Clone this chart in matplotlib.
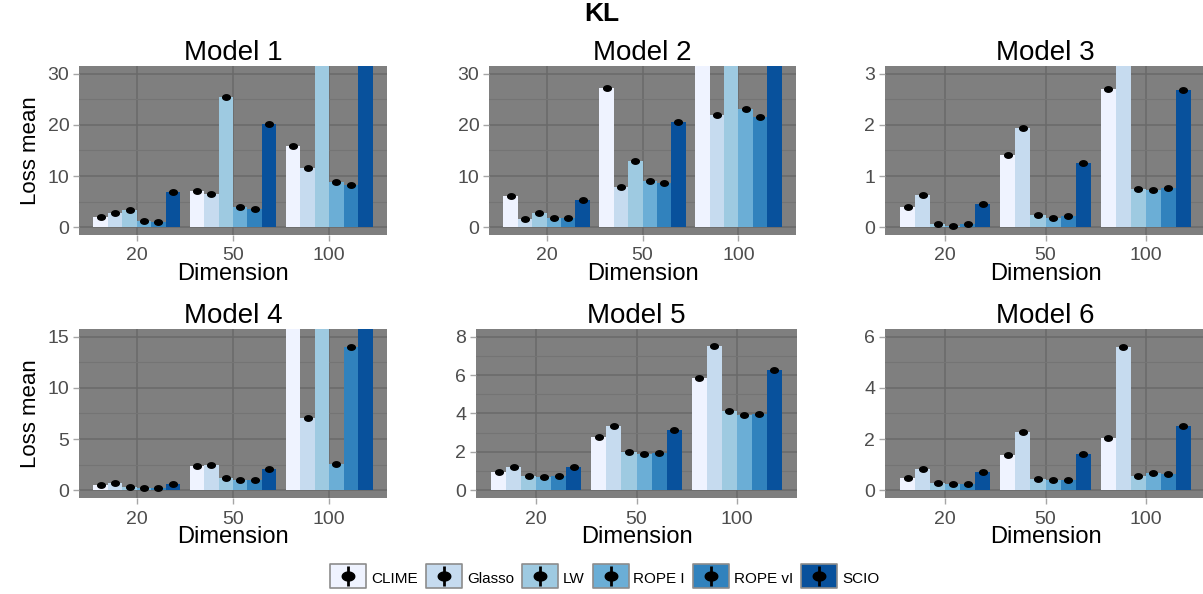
import numpy as np
import matplotlib
matplotlib.use('Agg')
import matplotlib.pyplot as plt
from matplotlib.lines import Line2D
from matplotlib.path import Path
from matplotlib.ticker import MultipleLocator

plt.rcParams['font.family'] = ['Liberation Sans', 'DejaVu Sans']

# ── Data: KL loss mean per method, dimension and model ─────────────
methods = ['CLIME', 'Glasso', 'LW', 'ROPE I', 'ROPE vI', 'SCIO']
dims = ['20', '50', '100']
colors = ['#EFF3FF', '#C6DBEF', '#9ECAE1', '#6BAED6', '#3182BD', '#08519C']

# rows = methods, columns = dimension 20 / 50 / 100
model1 = [[2.0, 7.0, 15.8], [2.7, 6.5, 11.6], [3.4, 25.5, 48.0],
          [1.2, 3.9, 8.9], [1.1, 3.6, 8.3], [6.9, 20.1, 42.0]]
model2 = [[6.1, 27.2, 40.0], [1.7, 7.9, 22.0], [2.7, 12.9, 52.0],
          [1.9, 9.0, 23.1], [1.9, 8.7, 21.5], [5.4, 20.5, 45.0]]
model3 = [[0.39, 1.42, 2.70], [0.63, 1.93, 4.6], [0.07, 0.25, 0.74],
          [0.03, 0.19, 0.72], [0.06, 0.22, 0.76], [0.45, 1.25, 2.68]]
model4 = [[0.55, 2.35, 26.0], [0.75, 2.50, 7.1], [0.30, 1.20, 31.0],
          [0.24, 1.05, 2.6], [0.27, 1.05, 14.0], [0.65, 2.12, 21.0]]
model5 = [[0.96, 2.80, 5.84], [1.20, 3.34, 7.49], [0.73, 1.97, 4.11],
          [0.70, 1.89, 3.93], [0.72, 1.92, 3.96], [1.23, 3.13, 6.27]]
model6 = [[0.49, 1.37, 2.05], [0.83, 2.26, 5.58], [0.29, 0.43, 0.57],
          [0.26, 0.42, 0.67], [0.25, 0.39, 0.63], [0.70, 1.43, 2.50]]

models = [model1, model2, model3, model4, model5, model6]
titles = ['Model 1', 'Model 2', 'Model 3', 'Model 4', 'Model 5', 'Model 6']
ymax = [30, 30, 3, 15, 8, 6]
ystep = [10, 10, 1, 5, 2, 2]

# ── Figure layout (pixel boxes: left, right, top, bottom) ──────────
W, H = 1203, 594
boxes = [(79, 387, 66, 235), (489, 796, 66, 235), (885, 1206, 66, 235),
         (79, 387, 329, 498), (476, 797, 329, 498), (885, 1206, 329, 498)]

fig = plt.figure(figsize=(W / 100, H / 100), dpi=100)

# slightly flattened dot, as drawn by the point layer
t = np.linspace(0, 2 * np.pi, 60)
ellipse = Path(np.column_stack([1.4 * np.cos(t), np.sin(t)]), closed=True)
# legend key box (wider than tall)
keybox = Path([(-1.45, -1), (1.45, -1), (1.45, 1), (-1.45, 1), (-1.45, -1)],
              closed=True)

PANEL_BG = '#7F7F7F'
GRID_MAJ = '#6A6A6A'
GRID_MIN = '#747474'
TICK_COL = '#A6A6A6'
LABEL_COL = '#4D4D4D'

n = len(methods)
width = 0.9 / n
x = np.arange(len(dims))

for i, (data, title) in enumerate(zip(models, titles)):
    l, r, tp, bt = boxes[i]
    ax = fig.add_axes([l / W, 1 - bt / H, (r - l) / W, (bt - tp) / H])
    ax.set_facecolor(PANEL_BG)
    for s in ax.spines.values():
        s.set_visible(False)

    for j, (vals, c) in enumerate(zip(data, colors)):
        xpos = x - 0.45 + width * (j + 0.5)
        ax.bar(xpos, vals, width=width, color=c, linewidth=0, zorder=2)
        ax.plot(xpos, vals, linestyle='none', marker=ellipse, markersize=5.5,
                color='black', zorder=3)

    pad = ymax[i] * 0.05
    ax.set_ylim(-pad, ymax[i] + pad)
    ax.set_xlim(-0.6, len(dims) - 0.4)
    ax.set_xticks(x)
    ax.set_xticklabels(dims)
    ax.yaxis.set_major_locator(MultipleLocator(ystep[i]))
    ax.yaxis.set_minor_locator(MultipleLocator(ystep[i] / 2))
    ax.grid(True, which='major', color=GRID_MAJ, linewidth=1.1, zorder=0)
    ax.grid(True, which='minor', axis='y', color=GRID_MIN, linewidth=0.8, zorder=0)
    ax.set_axisbelow(True)
    ax.tick_params(which='major', length=4, color=TICK_COL, width=1,
                   labelsize=14, labelcolor=LABEL_COL, pad=3)
    ax.tick_params(axis='x', which='major', pad=5)
    ax.tick_params(which='minor', length=0)

    ax.set_title(title, fontsize=20, pad=3)
    ax.set_xlabel('Dimension', fontsize=17, labelpad=-1)
    if i % 3 == 0:
        ax.set_ylabel('Loss mean', fontsize=16, labelpad=5)

fig.text(0.5, 1 - 14 / H, 'KL', ha='center', va='center',
         fontsize=19, fontweight='bold')

# ── Legend: coloured key with point + error bar on top ─────────────
handles = []
for c in colors:
    box = Line2D([], [], linestyle='none', marker=keybox, markersize=26,
                 markerfacecolor=c, markeredgecolor='#8C8C8C',
                 markeredgewidth=1.2)
    bar = Line2D([], [], linestyle='none', marker='|', markersize=15,
                 markeredgewidth=2, color='black')
    dot = Line2D([], [], linestyle='none', marker=ellipse, markersize=9,
                 color='black')
    handles.append((box, bar, dot))

fig.legend(handles, methods, loc='center', bbox_to_anchor=(0.503, 1 - 578 / H),
           ncol=len(methods), frameon=False, fontsize=11,
           handlelength=2.3, handleheight=1.6, handletextpad=0.35,
           columnspacing=0.55, borderaxespad=0)

fig.savefig('out.png', dpi=100)
